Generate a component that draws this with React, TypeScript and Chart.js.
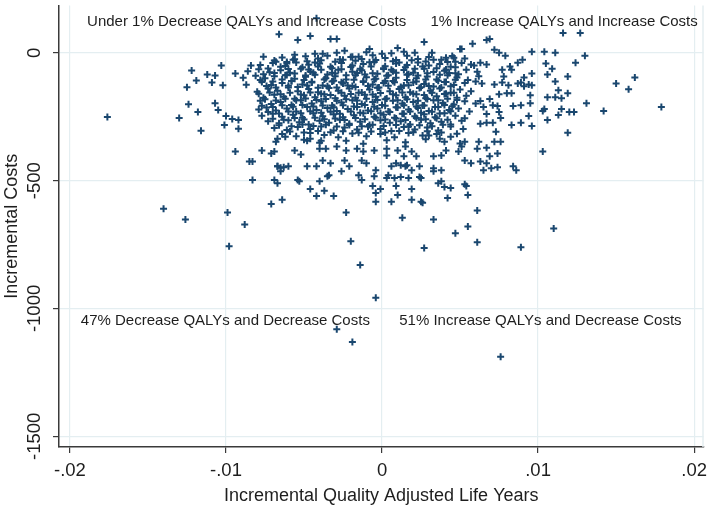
import { useEffect, useRef } from "react";
import { Chart, registerables } from "chart.js";

Chart.register(...registerables);

// ---------- tick labels / titles ----------
const xTickValues = [-0.02, -0.01, 0, 0.01, 0.02];
const xTickLabels = ["-.02", "-.01", "0", ".01", ".02"];
const yTickValues = [-1500, -1000, -500, 0];
const yTickLabels = ["-1500", "-1000", "-500", "0"];
const xTitle = "Incremental Quality Adjusted Life Years";
const yTitle = "Incremental Costs";

const quadrantNotes: { text: string; x: number; y: number }[] = [
  { text: "Under 1% Decrease QALYs and Increase Costs", x: -0.0189, y: 120 },
  { text: "1% Increase QALYs and Increase Costs", x: 0.0031, y: 120 },
  { text: "47% Decrease QALYs and Decrease Costs", x: -0.0193, y: -1050 },
  { text: "51% Increase QALYs and Decrease Costs", x: 0.0011, y: -1050 },
];

// ---------- simulated (QALY, cost) pairs ----------
const coreCloud: [number, number][] = [
  [-.0064,-18],[-.0056,-25],[-.0049,-14],[-.0041,-22],[-.0035,-12],[-.0027,-26],[-.0020,-16],[-.0013,-24],[-.0006,-10],[.0002,-20],[.0009,-28],[.0016,-12],[.0023,-24],[.0030,-16],[.0038,-27],[.0045,-13],[.0053,-22],
  [-.0078,-48],[-.0070,-40],[-.0062,-52],[-.0055,-38],[-.0047,-47],[-.0040,-42],[-.0033,-55],[-.0026,-40],[-.0019,-50],[-.0012,-44],[-.0005,-36],[.0002,-53],[.0009,-42],[.0016,-48],[.0023,-38],[.0030,-50],[.0037,-44],[.0044,-55],[.0051,-40],[.0059,-50],
  [-.0086,-72],[-.0079,-64],[-.0072,-76],[-.0065,-68],[-.0059,-78],[-.0052,-62],[-.0046,-73],[-.0039,-66],[-.0032,-78],[-.0026,-64],[-.0019,-74],[-.0013,-68],[-.0006,-80],[.0001,-63],[.0007,-72],[.0014,-67],[.0020,-78],[.0027,-62],[.0033,-75],[.0040,-70],[.0047,-80],[.0054,-66],[.0061,-74],
  [-.0089,-98],[-.0081,-90],[-.0075,-100],[-.0069,-92],[-.0062,-88],[-.0056,-102],[-.0049,-94],[-.0043,-86],[-.0036,-100],[-.0030,-92],[-.0023,-104],[-.0017,-88],[-.0010,-96],[-.0004,-102],[.0003,-90],[.0009,-98],[.0016,-86],[.0022,-100],[.0029,-93],[.0035,-104],[.0042,-88],[.0048,-97],[.0055,-106],[.0062,-92],
  [-.0087,-125],[-.0077,-114],[-.0071,-126],[-.0064,-118],[-.0058,-110],[-.0051,-124],[-.0045,-116],[-.0038,-128],[-.0032,-112],[-.0025,-120],[-.0019,-130],[-.0012,-114],[-.0006,-124],[.0001,-118],[.0007,-110],[.0014,-128],[.0020,-116],[.0027,-122],[.0033,-132],[.0040,-114],[.0046,-126],[.0053,-118],[.0060,-112],
  [-.0080,-152],[-.0073,-140],[-.0067,-148],[-.0060,-136],[-.0054,-150],[-.0047,-142],[-.0041,-154],[-.0034,-138],[-.0028,-148],[-.0021,-140],[-.0015,-156],[-.0008,-144],[-.0002,-136],[.0005,-150],[.0011,-142],[.0018,-154],[.0024,-138],[.0031,-148],[.0037,-140],[.0044,-156],[.0050,-144],[.0057,-150],
  [-.0076,-176],[-.0069,-164],[-.0063,-172],[-.0056,-180],[-.0050,-166],[-.0043,-174],[-.0037,-162],[-.0030,-178],[-.0024,-168],[-.0017,-176],[-.0011,-164],[-.0004,-172],[.0002,-182],[.0009,-166],[.0015,-174],[.0022,-162],[.0028,-178],[.0035,-170],[.0041,-160],[.0048,-176],[.0054,-168],
  [-.0078,-188],[-.0071,-200],[-.0065,-192],[-.0058,-204],[-.0052,-186],[-.0045,-198],[-.0039,-190],[-.0032,-206],[-.0026,-194],[-.0019,-186],[-.0013,-200],[-.0006,-192],[.0000,-204],[.0007,-188],[.0013,-198],[.0020,-192],[.0026,-206],[.0033,-186],[.0039,-196],[.0046,-202],[.0053,-190],[.0060,-198],
  [-.0079,-222],[-.0074,-214],[-.0068,-226],[-.0061,-218],[-.0055,-230],[-.0048,-212],[-.0042,-224],[-.0035,-216],[-.0029,-228],[-.0022,-220],[-.0016,-212],[-.0009,-226],[-.0003,-218],[.0004,-230],[.0010,-214],[.0017,-222],[.0023,-216],[.0030,-228],[.0036,-212],[.0043,-224],[.0049,-218],[.0056,-230],
  [-.0077,-246],[-.0070,-238],[-.0064,-250],[-.0057,-242],[-.0051,-254],[-.0044,-236],[-.0038,-248],[-.0031,-240],[-.0025,-252],[-.0018,-244],[-.0012,-236],[-.0005,-250],[.0001,-242],[.0008,-254],[.0014,-238],[.0021,-248],[.0027,-240],[.0034,-252],[.0040,-236],[.0047,-246],[.0053,-256],
  [-.0073,-268],[-.0066,-276],[-.0060,-264],[-.0053,-272],[-.0047,-280],[-.0040,-266],[-.0034,-274],[-.0027,-262],[-.0021,-278],[-.0014,-270],[-.0008,-282],[-.0001,-264],[.0005,-274],[.0012,-268],[.0018,-280],[.0025,-262],[.0031,-276],[.0038,-270],[.0044,-280],[.0051,-266],
  [-.0069,-294],[-.0061,-302],[-.0054,-290],[-.0046,-298],[-.0039,-288],[-.0031,-304],[-.0024,-292],[-.0016,-300],[-.0009,-288],[-.0001,-298],[.0006,-306],[.0014,-290],[.0021,-300],[.0029,-292],[.0036,-304],[.0044,-288],[.0052,-298],
  [-.0064,-318],[-.0055,-326],[-.0046,-314],[-.0037,-322],[-.0028,-330],[-.0019,-316],[-.0010,-326],[-.0001,-318],[.0008,-330],[.0017,-314],[.0026,-324],[.0035,-318],[.0044,-328],
  [-.0068,-348],[-.0050,-340],[-.0040,-352],[-.0023,-344],[-.0012,-356],[.0003,-342],[.0015,-350],[.0028,-338],[.0040,-348],[.0050,-355],
];

const coreCloudFill: [number, number][] = [
  [-.0069,-30],[-.0061,-36],[-.0057,-27],[-.0048,-33],[-.0043,-38],[-.0039,-29],[-.0030,-35],[-.0025,-27],[-.0017,-31],[-.0008,-37],[-.0004,-28],[.0007,-33],[.0011,-38],[.0019,-29],[.0028,-34],[.0033,-27],[.0042,-36],
  [-.0073,-61],[-.0065,-55],[-.0060,-63],[-.0051,-57],[-.0047,-65],[-.0041,-54],[-.0032,-60],[-.0028,-66],[-.0020,-56],[-.0014,-62],[-.0007,-54],[.0001,-60],[.0006,-66],[.0015,-57],[.0021,-62],[.0026,-54],[.0035,-60],[.0041,-65],[.0047,-57],
  [-.0076,-84],[-.0069,-79],[-.0061,-87],[-.0056,-81],[-.0049,-89],[-.0044,-78],[-.0035,-85],[-.0030,-81],[-.0023,-88],[-.0016,-79],[-.0011,-85],[-.0003,-82],[.0004,-88],[.0009,-78],[.0017,-84],[.0023,-89],[.0029,-80],[.0037,-86],[.0043,-79],[.0049,-84],
  [-.0078,-106],[-.0070,-112],[-.0064,-104],[-.0058,-110],[-.0050,-106],[-.0045,-113],[-.0037,-104],[-.0031,-109],[-.0026,-115],[-.0018,-105],[-.0012,-111],[-.0005,-104],[.0002,-110],[.0008,-115],[.0016,-106],[.0022,-112],[.0028,-104],[.0036,-109],[.0041,-114],[.0047,-105],
  [-.0074,-130],[-.0068,-136],[-.0060,-129],[-.0054,-134],[-.0048,-128],[-.0041,-137],[-.0035,-131],[-.0029,-136],[-.0022,-128],[-.0017,-134],[-.0009,-130],[-.0003,-137],[.0004,-129],[.0012,-134],[.0017,-127],[.0025,-135],[.0030,-130],[.0038,-136],[.0044,-131],
  [-.0079,-160],[-.0072,-155],[-.0065,-162],[-.0059,-156],[-.0052,-163],[-.0046,-155],[-.0039,-160],[-.0033,-165],[-.0026,-156],[-.0020,-161],[-.0013,-155],[-.0006,-163],[-.0001,-157],[.0007,-162],[.0013,-155],[.0020,-160],[.0027,-165],[.0032,-156],[.0040,-161],[.0046,-156],
  [-.0075,-182],[-.0068,-187],[-.0062,-180],[-.0055,-186],[-.0049,-179],[-.0042,-185],[-.0036,-181],[-.0029,-188],[-.0023,-182],[-.0016,-187],[-.0010,-180],[-.0003,-185],[.0003,-179],[.0010,-186],[.0016,-182],[.0023,-188],[.0029,-181],[.0036,-186],[.0042,-180],[.0048,-185],
  [-.0077,-207],[-.0070,-212],[-.0064,-205],[-.0057,-211],[-.0051,-204],[-.0044,-210],[-.0038,-206],[-.0031,-213],[-.0025,-205],[-.0018,-210],[-.0011,-204],[-.0005,-211],[.0002,-207],[.0009,-213],[.0014,-205],[.0022,-210],[.0027,-206],[.0034,-212],[.0040,-204],[.0045,-209],
  [-.0073,-232],[-.0066,-237],[-.0060,-230],[-.0052,-236],[-.0046,-229],[-.0039,-235],[-.0033,-231],[-.0027,-238],[-.0020,-230],[-.0014,-235],[-.0007,-229],[-.0001,-236],[.0005,-232],[.0013,-238],[.0018,-230],[.0025,-235],[.0032,-231],[.0037,-237],[.0044,-229],
  [-.0070,-258],[-.0063,-262],[-.0056,-255],[-.0050,-261],[-.0043,-254],[-.0037,-260],[-.0030,-257],[-.0024,-263],[-.0017,-255],[-.0011,-260],[-.0004,-254],[.0002,-261],[.0009,-257],[.0015,-263],[.0022,-255],[.0028,-260],[.0035,-256],[.0042,-262],
  [-.0066,-283],[-.0058,-287],[-.0051,-280],[-.0044,-286],[-.0036,-281],[-.0029,-288],[-.0021,-282],[-.0013,-287],[-.0006,-281],[.0001,-286],[.0009,-282],[.0017,-288],[.0024,-283],[.0032,-287],[.0039,-281],
  [-.0059,-308],[-.0050,-312],[-.0041,-306],[-.0033,-311],[-.0025,-307],[-.0015,-313],[-.0007,-308],[.0002,-312],[.0011,-306],[.0020,-311],[.0029,-307],[.0038,-312],
];

const upperPoints: [number, number][] = [
  [-.0066,73],[-.0054,50],[-.0046,66],[-.0033,54],[-.0042,135],[-.0076,-15],[-.0029,54],[-.0008,15],[.0010,19],[.0027,42],
  [.0058,35],[.0050,15],[.0069,54],[.0116,77],[.0127,77],[.0014,4],[.0021,0],[.0032,0],[.0000,-4],[-.0015,-15],
  [-.0019,-15],[-.0043,-4],[-.0038,-4],[-.0029,0],[.0096,4],[.0104,4],[.0111,0],[.0130,-12],[.0072,12],[.0075,0],
  [.0079,-12],[.0041,-19],[.0046,-19],[-.0084,-50],[-.0068,-35],[-.0061,-42],[-.0056,-8],[-.0024,8],[.0006,-2],[-.0010,2],
  [.0067,50],[.0051,15],[.0047,-35],[.0063,-39],[.0057,-46],
];

const rightTail: [number, number][] = [
  [.0064,-120],[.0072,-124],[.0077,-116],[.0081,-127],[.0087,-120],[.0089,-116],[.0091,-97],[.0091,-131],[.0094,-124],[.0096,-127],
  [.0087,-39],[.0090,-27],[.0082,-54],[.0083,-66],[.0077,-66],[.0078,-93],[.0067,-46],[.0096,-81],[.0069,-181],[.0075,-162],
  [.0080,-158],[.0083,-158],[.0063,-189],[.0065,-212],[.0071,-205],[.0074,-208],[.0075,-232],[.0067,-239],[.0063,-278],[.0067,-274],
  [.0095,-166],[.0095,-197],[.0089,-205],[.0084,-208],[.0094,-247],[.0096,-286],[.0089,-274],[.0083,-282],[.0076,-255],[.0071,-274],
  [.0073,-309],[.0072,-348],[.0076,-348],[.0067,-371],[.0074,-394],[.0069,-405],[.0067,-432],[.0070,-452],[.0074,-448],[.0084,-444],
  [.0086,-459],[.0105,-42],[.0109,-62],[.0106,-85],[.0119,-93],[.0111,-112],[.0113,-147],[.0106,-174],[.0111,-174],[.0115,-178],
  [.0119,-158],[.0150,-120],[.0162,-97],[.0158,-143],[.0179,-212],[.0131,-197],[.0142,-228],[.0115,-220],[.0113,-243],[.0120,-232],
  [.0123,-232],[.0103,-228],[.0104,-220],[.0106,-263],[.0119,-313],[.0103,-386],[.0124,-39],
];

const leftTail: [number, number][] = [
  [-.0176,-251],[-.0122,-69],[-.0119,-108],[-.0125,-135],[-.0112,-85],[-.0107,-89],[-.0103,-50],[-.0109,-116],[-.0102,-127],[-.0094,-81],
  [-.0124,-201],[-.0118,-232],[-.0130,-255],[-.0116,-305],[-.0107,-197],[-.0105,-224],[-.0100,-247],[-.0101,-282],[-.0096,-259],[-.0092,-263],
  [-.0092,-297],[-.0094,-386],[-.0085,-425],[-.0083,-425],[-.0083,-498],[-.0077,-382],[-.0071,-394],[-.0067,-444],[-.0065,-450],[-.0060,-444],
  [-.0067,-510],[-.0053,-502],[-.0046,-533],[-.0042,-560],[-.0037,-540],[-.0052,-398],[-.0048,-444],[-.0042,-444],[-.0040,-502],[-.0035,-483],
  [-.0031,-560],[-.0071,-591],[-.0064,-575],[-.0140,-610],[-.0126,-652],[-.0099,-625],[-.0088,-672],[-.0098,-757],[-.0023,-625],[-.0020,-737],
];

const lowerPoints: [number, number][] = [
  [-.0048,-344],[-.0046,-336],[-.0039,-344],[-.0069,-386],[-.0056,-382],[-.0040,-375],[-.0067,-444],[-.0065,-463],[-.0063,-448],[-.0069,-498],
  [-.0054,-498],[-.0062,-328],[-.0067,-336],[-.0036,-375],[-.0029,-367],[-.0023,-382],[-.0016,-375],[-.0012,-386],[-.0005,-382],[.0003,-375],
  [.0010,-382],[.0015,-367],[-.0038,-421],[-.0033,-432],[-.0024,-421],[-.0021,-444],[-.0013,-421],[-.0010,-432],[-.0004,-459],[.0003,-402],
  [.0006,-444],[.0009,-432],[.0012,-440],[.0016,-440],[-.0034,-479],[-.0026,-463],[-.0015,-479],[-.0013,-498],[-.0005,-483],[.0004,-479],
  [.0008,-490],[.0053,-348],[.0051,-367],[.0049,-386],[.0061,-375],[.0062,-348],[.0041,-382],[.0038,-402],[.0033,-405],[.0019,-386],
  [.0014,-405],[.0022,-405],[.0015,-444],[.0019,-459],[.0024,-444],[.0033,-452],[.0038,-459],[.0053,-421],[.0057,-432],[.0063,-425],
  [.0017,-490],[.0025,-490],[.0033,-463],[.0065,-459],[.0048,-317],[.0037,-336],[.0030,-324],
  [-.0004,-583],[-.0004,-548],[-.0006,-521],[-.0001,-533],[.0006,-583],[.0010,-556],[.0009,-521],[.0019,-575],[.0025,-583],[.0019,-533],
  [.0024,-486],[.0012,-486],[.0003,-490],[.0110,-687],[.0089,-761],[.0033,-652],[.0047,-706],[.0055,-679],[.0061,-741],[.0061,-617],
  [.0055,-556],[.0042,-568],[.0026,-587],[.0036,-510],[.0038,-502],[.0040,-525],[.0044,-529],[.0053,-514],[.0054,-521],
];

const bottomOutliers: [number, number][] = [
  [-.0014,-830],[-.0004,-958],[-.0029,-1081],[-.0019,-1131],[.0076,-1189],[.0013,-645],[.0027,-764],
];

const allPoints = [...coreCloud, ...coreCloudFill, ...upperPoints, ...rightTail, ...leftTail, ...lowerPoints, ...bottomOutliers];

// ---------- styles ----------
const FONT = '"Liberation Sans", Arial, Helvetica, sans-serif';
const MARKER = "#1a476f";
const GRID = "#e4eef1";
const AXIS = "#3a3a3a";
const TEXT = "#1e1e1e";

const overlayPlugin = {
  id: "overlayText",
  afterDatasetsDraw(chart: any) {
    const ctx = chart.ctx as CanvasRenderingContext2D;
    const xs = chart.scales.x;
    const ys = chart.scales.y;
    const a = chart.chartArea;
    ctx.save();
    ctx.strokeStyle = GRID;
    ctx.lineWidth = 1.5;
    ctx.beginPath();
    ctx.moveTo(a.right - 0.5, a.top);
    ctx.lineTo(a.right - 0.5, a.bottom);
    ctx.stroke();

    ctx.fillStyle = TEXT;
    ctx.textBaseline = "middle";
    ctx.textAlign = "left";
    ctx.font = `15px ${FONT}`;
    quadrantNotes.forEach((n) => {
      ctx.fillText(n.text, xs.getPixelForValue(n.x), ys.getPixelForValue(n.y));
    });

    ctx.textAlign = "center";
    ctx.font = `18.5px ${FONT}`;
    xTickValues.forEach((v, i) => {
      ctx.fillText(xTickLabels[i], xs.getPixelForValue(v), a.bottom + 24);
    });
    yTickValues.forEach((v, i) => {
      ctx.save();
      ctx.translate(a.left - 24, ys.getPixelForValue(v));
      ctx.rotate(-Math.PI / 2);
      ctx.fillText(yTickLabels[i], 0, 0);
      ctx.restore();
    });

    ctx.font = `18px ${FONT}`;
    ctx.fillText(xTitle, (a.left + a.right) / 2, a.bottom + 49);
    ctx.save();
    ctx.translate(12, (a.top + a.bottom) / 2);
    ctx.rotate(-Math.PI / 2);
    ctx.fillText(yTitle, 0, 0);
    ctx.restore();
    ctx.restore();
  },
};

export default function App() {
  const canvasRef = useRef<HTMLCanvasElement | null>(null);

  useEffect(() => {
    if (!canvasRef.current) return;
    const chart = new Chart(canvasRef.current, {
      type: "scatter",
      data: {
        datasets: [
          {
            data: allPoints.map(([x, y]) => ({ x, y })),
            pointStyle: "cross",
            pointRadius: 3.5,
            pointHoverRadius: 3.5,
            pointBorderWidth: 2,
            borderColor: MARKER,
            backgroundColor: MARKER,
            showLine: false,
          },
        ],
      },
      options: {
        animation: false,
        responsive: false,
        devicePixelRatio: 1,
        layout: { padding: { left: 0, right: 5, top: 0, bottom: 0 } },
        plugins: { legend: { display: false }, tooltip: { enabled: false } },
        events: [],
        scales: {
          x: {
            type: "linear",
            min: -0.0207,
            max: 0.0206,
            afterBuildTicks: (s: any) => {
              s.ticks = xTickValues.map((v) => ({ value: v }));
            },
            afterFit: (s: any) => {
              s.height = 62;
            },
            ticks: { display: false },
            grid: { color: GRID, lineWidth: 1.2, drawTicks: true, tickLength: 6, tickColor: AXIS, tickWidth: 1.2 },
            border: { display: true, color: AXIS, width: 1.5 },
          },
          y: {
            type: "linear",
            min: -1542,
            max: 185,
            afterBuildTicks: (s: any) => {
              s.ticks = yTickValues.map((v) => ({ value: v }));
            },
            afterFit: (s: any) => {
              s.width = 59;
            },
            ticks: { display: false },
            grid: { color: GRID, lineWidth: 1.2, drawTicks: true, tickLength: 6, tickColor: AXIS, tickWidth: 1.2 },
            border: { display: true, color: AXIS, width: 1.5 },
          },
        },
      },
      plugins: [overlayPlugin],
    });
    return () => chart.destroy();
  }, []);

  return (
    <div style={{ position: "fixed", left: 0, top: 0, width: 709, height: 509, background: "#fff" }}>
      <canvas ref={canvasRef} width={709} height={509} style={{ display: "block", width: 709, height: 509 }} />
    </div>
  );
}
